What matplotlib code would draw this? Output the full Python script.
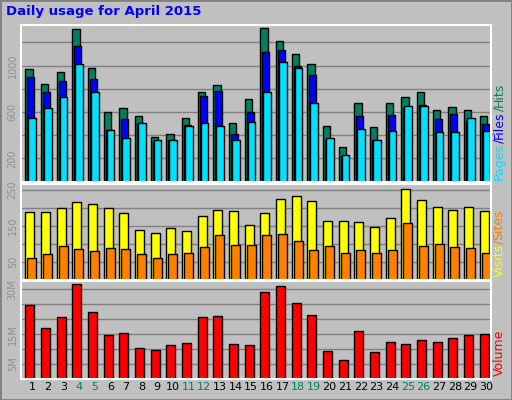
import matplotlib
matplotlib.use("Agg")
import matplotlib.pyplot as plt
from matplotlib.patches import Rectangle

days = list(range(1, 31))
hits = [971,841,945,1319,980,597,632,562,388,414,545,771,832,501,710,1328,1215,1101,1015,475,301,675,467,675,727,771,614,640,614,562]
files = [901,771,867,1171,884,441,536,501,345,362,484,736,780,414,597,1119,1136,997,919,354,223,562,362,571,632,658,536,580,519,493]
pages = [545,632,727,1015,771,441,371,501,354,354,475,501,475,362,510,771,1032,980,675,371,232,449,354,432,650,650,423,423,545,432]
visits = [187,187,199,216,210,199,184,138,130,144,136,176,193,190,153,184,224,233,219,164,164,161,147,170,253,221,201,193,201,190]
sites = [59,70,93,84,79,87,84,70,59,70,73,90,124,96,96,124,127,107,81,93,73,81,73,81,156,93,99,90,87,73]
volume = [24.9,17.1,20.6,31.9,22.4,14.6,15.4,10.4,9.7,11.5,12.2,20.6,21.0,11.8,11.5,29.1,31.2,25.6,21.4,9.4,6.5,16.1,9.0,12.5,11.8,12.9,12.5,13.6,14.6,15.0]
weekends = [4, 5, 11, 12, 18, 19, 25, 26]

W, H = 512, 400
fig = plt.figure(figsize=(W/100, H/100), dpi=100, facecolor='#C0C0C0')
# border
fig.patches.append(Rectangle((0, 0), 1, 1, transform=fig.transFigure, fill=False, edgecolor='#808080', lw=2))

def ax_at(x0, y0, x1, y1):
    a = fig.add_axes([x0/W, 1-y1/H, (x1-x0)/W, (y1-y0)/H])
    a.set_facecolor('#C0C0C0')
    for s in a.spines.values():
        s.set_color('white'); s.set_linewidth(1.5)
    a.set_xlim(0, 30)
    a.set_xticks([])
    a.tick_params(axis='y', length=0, labelsize=7, labelcolor='#909090', pad=2)
    for lab in a.get_yticklabels():
        pass
    return a

gridc = '#808080'
x = [d - 1 for d in days]

a1 = ax_at(20.5, 25, 490.5, 181.5)
a1.set_ylim(0, 1350)
a1.set_yticks([200, 400, 600, 800, 1000, 1200])
a1.set_yticklabels(['200', '', '600', '', '1000', ''], rotation=90, va='center')
a1.yaxis.grid(True, color=gridc, lw=1); a1.set_axisbelow(True)
kw = dict(align='edge', edgecolor='black', linewidth=1)
a1.bar([i+0.3 for i in x], hits, width=0.47, color='#00805F', **kw)
a1.bar([i+0.43 for i in x], files, width=0.46, color='#0000FF', **kw)
a1.bar([i+0.5 for i in x], pages, width=0.49, color='#00E0FF', **kw)

a2 = ax_at(20.5, 184, 490.5, 279.5)
a2.set_ylim(0, 266)
a2.set_yticks([50, 100, 150, 200, 250])
a2.set_yticklabels(['50', '', '150', '', '250'], rotation=90, va='center')
a2.yaxis.grid(True, color=gridc, lw=1); a2.set_axisbelow(True)
a2.bar([i+0.3 for i in x], visits, width=0.59, color='#FFFF00', **kw)
a2.bar([i+0.43 for i in x], sites, width=0.57, color='#FF8000', **kw)

a3 = ax_at(20.5, 281, 490.5, 379)
a3.set_ylim(0, 32.8)
a3.set_yticks([5, 10, 15, 20, 25, 30])
a3.set_yticklabels(['5M', '', '15M', '', '', '30M'], rotation=90, va='center')
a3.yaxis.grid(True, color=gridc, lw=1); a3.set_axisbelow(True)
a3.bar([i+0.3 for i in x], volume, width=0.59, color='#FF0000', **kw)

for d in days:
    fig.text((20.5 + (d - 1 + 0.73) * 470/30)/W, 1-387/H, str(d), ha='center', va='center',
             fontsize=8, color='#00805F' if d in weekends else 'black')

fig.text(6/W, 1-12/H, 'Daily usage for April 2015', color='#0000FF', fontsize=9.5,
         fontweight='bold', ha='left', va='center')

fig.canvas.draw()
r = fig.canvas.get_renderer()
def vlabel(parts, ybottom):
    y = ybottom
    for t, c in parts:
        tx = fig.text(499/W, 1-y/H, t, color=c, fontsize=9, rotation=90, ha='center', va='bottom')
        bb = tx.get_window_extent(r)
        y -= bb.height
vlabel([('Pages', '#00E0FF'), ('/', '#0000FF'), ('Files', '#0000FF'), ('/', '#00805F'), ('Hits', '#00805F')], 180)
vlabel([('Visits', '#FFFF00'), ('/', '#FF8000'), ('Sites', '#FF8000')], 277)
vlabel([('Volume', '#FF0000')], 376)

fig.savefig('out.png', dpi=100, facecolor=fig.get_facecolor())
